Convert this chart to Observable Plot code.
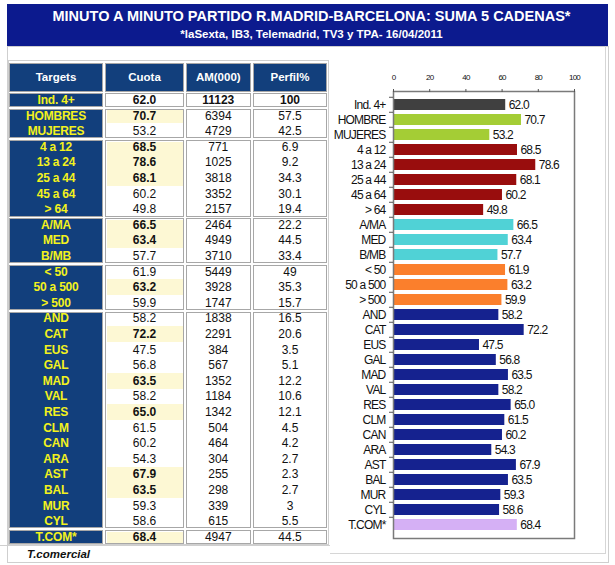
<!DOCTYPE html>
<html><head><meta charset="utf-8">
<script src="https://cdn.jsdelivr.net/npm/d3@7"></script>
<script src="https://cdn.jsdelivr.net/npm/@observablehq/plot@0.6"></script>
<style>
html,body{margin:0;padding:0;background:#fff;}
#wrap{position:relative;width:615px;height:565px;overflow:hidden;font-family:"Liberation Sans",Arial,Helvetica,sans-serif;}
.abs{position:absolute;box-sizing:border-box;}
#chart{position:absolute;left:0;top:0;}
#chart text{letter-spacing:-0.8px;}
</style></head>
<body>
<div id="wrap"></div>
<script>
// ---------- data ----------
const title = "MINUTO A MINUTO PARTIDO R.MADRID-BARCELONA: SUMA 5 CADENAS*";
const subtitle = "*laSexta, IB3, Telemadrid, TV3 y TPA- 16/04/2011";
const footnote = "T.comercial";
const headers = ["Targets", "Cuota", "AM(000)", "Perfil%"];
const targets = ["Ind. 4+","HOMBRES","MUJERES","4 a 12","13 a 24","25 a 44","45 a 64","> 64","A/MA","MED","B/MB","< 50","50 a 500","> 500","AND","CAT","EUS","GAL","MAD","VAL","RES","CLM","CAN","ARA","AST","BAL","MUR","CYL","T.COM*"];
const chartLabels = ["Ind. 4+","HOMBRE","MUJERES","4 a 12","13 a 24","25 a 44","45 a 64","> 64","A/MA","MED","B/MB","< 50","50 a 500","> 500","AND","CAT","EUS","GAL","MAD","VAL","RES","CLM","CAN","ARA","AST","BAL","MUR","CYL","T.COM*"];
const cuota = [62.0,70.7,53.2,68.5,78.6,68.1,60.2,49.8,66.5,63.4,57.7,61.9,63.2,59.9,58.2,72.2,47.5,56.8,63.5,58.2,65.0,61.5,60.2,54.3,67.9,63.5,59.3,58.6,68.4];
const am = [11123,6394,4729,771,1025,3818,3352,2157,2464,4949,3710,5449,3928,1747,1838,2291,384,567,1352,1184,1342,504,464,304,255,298,339,615,4947];
const perfil = [100,57.5,42.5,6.9,9.2,34.3,30.1,19.4,22.2,44.5,33.4,49,35.3,15.7,16.5,20.6,3.5,5.1,12.2,10.6,12.1,4.5,4.2,2.7,2.3,2.7,3,5.5,44.5];
const groupNames = ["total","sexo","edad","clase","habitat","ccaa","tcom"];
const groupSizes = [1,2,5,3,3,14,1];
const groupColors = ["#404040","#a4cd35","#990d0d","#50d2d6","#fb7f2c","#15228f","#d5b0f5"];
const xTicks = [0,20,40,60,80,100];

// ---------- layout ----------
const W = document.getElementById("wrap");
function box(x,y,w,h,style){const d=document.createElement("div");d.className="abs";Object.assign(d.style,{left:x+"px",top:y+"px",width:w+"px",height:h+"px"},style||{});W.appendChild(d);return d;}
function txt(x,y,w,h,text,style){const d=box(x,y,w,h,Object.assign({display:"flex",alignItems:"center",justifyContent:"center",whiteSpace:"nowrap"},style||{}));d.textContent=text;return d;}

// panel borders
box(7,46,602,517,{border:"1px solid #cfcfcf"});
box(330,46,276,508,{borderRight:"1px solid #d6d6d6",borderBottom:"1px solid #d6d6d6"});
box(8,60,321,485,{border:"1px solid #cfcfcf"});
box(0,545,330,18,{borderTop:"1px solid #cfcfcf"});

// banner
box(7,4,601,42,{background:"#0c1a8e"});
txt(15,5,593,21,title,{color:"#fff",fontWeight:"bold",fontSize:"14.5px"});
txt(15,25,593,18,subtitle,{color:"#fff",fontWeight:"bold",fontSize:"11.5px"});

// table
const colL=[9,105,185.5,253], colR=[103,184,251,327];
const rowTop0 = 92.2, rowH = 15.6;
const navy = "#123f7c";
for(let c=0;c<4;c++){
  box(colL[c],62.5,colR[c]-colL[c],29.5,{border:"1.5px solid #a7a7a7",background:navy});
  txt(colL[c],62.5,colR[c]-colL[c],29.5,headers[c],{color:"#fff",fontWeight:"bold",fontSize:"11.5px"});
}
let s=0;
const groupOf=[];
groupSizes.forEach((n,g)=>{
  const top=rowTop0+s*rowH+1, bot=rowTop0+(s+n)*rowH-0.5;
  for(let c=0;c<4;c++){
    box(colL[c],top,colR[c]-colL[c],bot-top,{border:"1.5px solid #a7a7a7",background:c===0?navy:"#fff"});
  }
  for(let k=0;k<n;k++){
    const i=s+k; groupOf[i]=groupNames[g];
    const hi = cuota[i] > cuota[0];
    if(hi){
      const rt=Math.max(rowTop0+i*rowH,top+1.5), rb=Math.min(rowTop0+(i+1)*rowH,bot-1.5);
      box(colL[1]+1.5,rt,colR[1]-colL[1]-3,rb-rt,{background:"#fdf8d4"});
    }
  }
  s+=n;
});
targets.forEach((t,i)=>{
  const y=rowTop0+i*rowH;
  const hi = cuota[i] > cuota[0];
  txt(colL[0],y,colR[0]-colL[0],rowH,t,{color:"#f3f21c",fontWeight:"bold",fontSize:"12px",letterSpacing:"-0.2px"});
  txt(colL[1],y,colR[1]-colL[1],rowH,cuota[i].toFixed(1),{color:"#111",fontWeight:(hi||i===0)?"bold":"normal",fontSize:"12px"});
  txt(colL[2],y,colR[2]-colL[2],rowH,String(am[i]),{color:"#111",fontWeight:i===0?"bold":"normal",fontSize:"12px"});
  txt(colL[3],y,colR[3]-colL[3],rowH,String(perfil[i]),{color:"#111",fontWeight:i===0?"bold":"normal",fontSize:"12px"});
});
txt(27,546,200,16,footnote,{justifyContent:"flex-start",fontStyle:"italic",fontWeight:"bold",fontSize:"11.5px",color:"#111"});

// ---------- chart ----------
const rows = chartLabels.map((l,i)=>({label:l,value:cuota[i],group:groupOf[i]}));
const mTop=91, mBottom=27, H=565;
const padIn=0.25, padOut=0.08;
const step=(H-mTop-mBottom)/(chartLabels.length-padIn+2*padOut);
const chart = Plot.plot({
  width:615, height:565,
  marginLeft:393, marginRight:41, marginTop:mTop, marginBottom:mBottom,
  style:{background:"transparent",fontFamily:"Liberation Sans, Arial, sans-serif",overflow:"visible",color:"#111"},
  x:{domain:[0,100]},
  y:{domain:chartLabels,paddingInner:padIn,paddingOuter:padOut},
  color:{domain:groupNames,range:groupColors},
  marks:[
    Plot.barX(rows,{x:"value",y:"label",fill:"group"}),
    Plot.text(rows,{x:"value",y:"label",text:d=>d.value.toFixed(1),dx:3,textAnchor:"start",fontSize:12,fill:"#111"}),
    Plot.frame({stroke:"#7a7a7a",strokeWidth:1.5}),
    Plot.axisX({anchor:"top",ticks:xTicks,tickSize:3,tickPadding:9,fontSize:8,label:null,stroke:"#555"}),
    Plot.axisY({anchor:"left",tickSize:0,tickPadding:8,fontSize:12,label:null}),
    Plot.axisY({anchor:"left",tickSize:4,tickFormat:()=>"",label:null,dy:-step/2,stroke:"#555"})
  ]
});
chart.id="chart";
W.appendChild(chart);
</script>
</body></html>
